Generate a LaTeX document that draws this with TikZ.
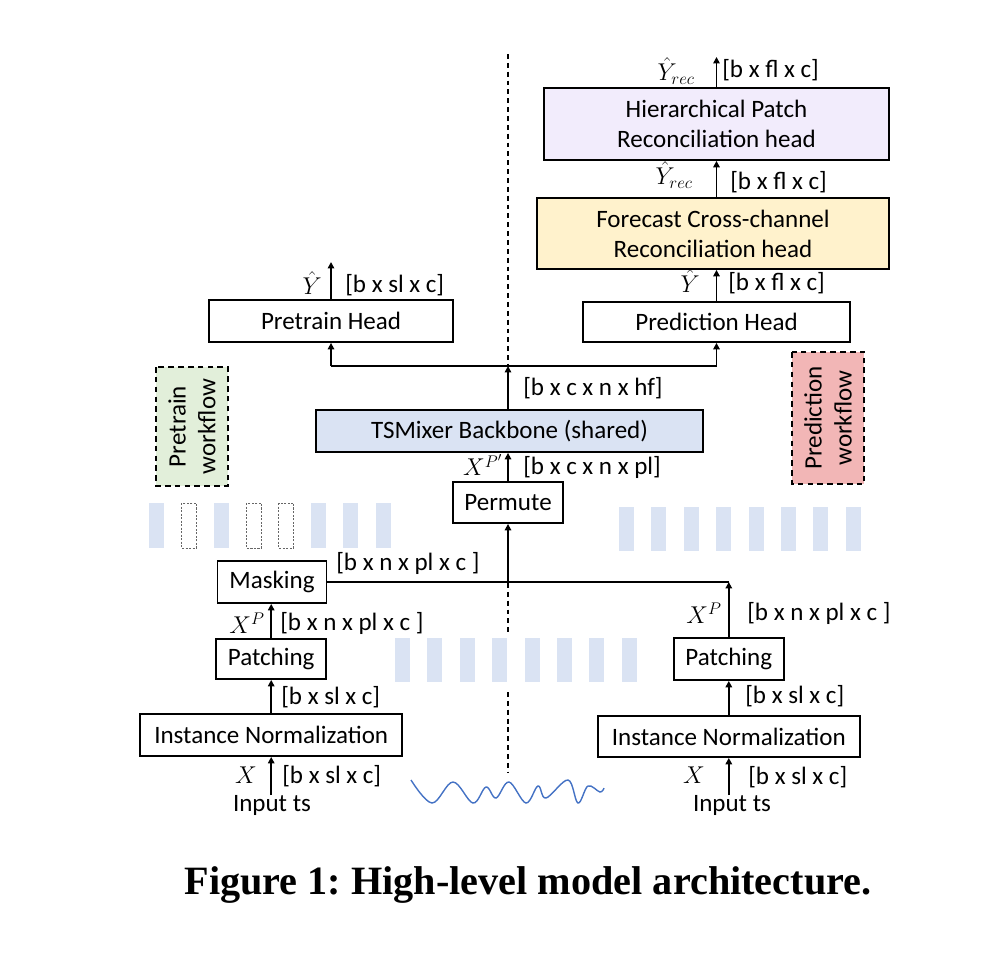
\documentclass[tikz,border=0pt]{standalone}
\usepackage{amsmath}
\usepackage{fontspec}
\setmainfont{Carlito}
\newfontfamily\capfont{Liberation Serif}
\usetikzlibrary{arrows.meta}

\definecolor{lilac}{RGB}{242,236,252}
\definecolor{sand}{RGB}{255,242,204}
\definecolor{steel}{RGB}{218,227,243}
\definecolor{sage}{RGB}{226,239,218}
\definecolor{rose}{RGB}{242,182,182}
\definecolor{wave}{RGB}{68,114,196}

\newcommand{\figfont}{\fontsize{17.8}{21.3}\selectfont}

\tikzset{
  blk/.style={draw, line width=1.3pt, inner sep=0pt, align=center},
  lbl/.style={inner sep=0pt},
  flowbox/.style={draw, line width=1.3pt, dash pattern=on 4pt off 3pt, inner sep=0pt, align=center, rotate=90},
  arr/.style={->, line width=1.2pt},
  link/.style={line width=1pt},
  maskbar/.style={draw=gray!80!black, line width=0.5pt, dash pattern=on 1.5pt off 1pt},
  midline/.style={line width=0.8pt, dash pattern=on 3.5pt off 2.8pt},
}

\begin{document}
\begin{tikzpicture}[font=\figfont, >={Triangle[length=1.6mm,width=1.6mm]}]

\useasboundingbox (0,0) rectangle (24.65,-23.9);

% center line
\draw[midline] (12.7,-1.35) -- (12.7,-9.15);
\draw[midline] (12.7,-14.575) -- (12.7,-15.8);
\draw[midline] (12.7,-17.3) -- (12.7,-19.325);

% patches
\foreach \i in {0,2,5,6,7}
  \fill[steel] ({3.725+0.81*\i},-12.575) rectangle ++(0.375,-1.125);
\foreach \i in {1,3,4}
  \draw[maskbar] ({3.725+0.81*\i},-12.575) rectangle ++(0.375,-1.125);
\foreach \i in {0,...,7}
  \fill[steel] ({9.875+0.81*\i},-15.95) rectangle ++(0.375,-1.1);
\foreach \i in {0,...,7}
  \fill[steel] ({15.475+0.81*\i},-12.675) rectangle ++(0.375,-1.1);

% input series
\draw[wave, line width=1pt] plot[smooth, tension=0.6] coordinates {
  (10.275,-19.5) (10.8,-20.075) (11.325,-19.55) (11.825,-20.075)
  (12.15,-19.675) (12.4,-19.95) (12.725,-19.55) (13.15,-20.075)
  (13.45,-19.65) (13.65,-19.95) (14.2,-19.5) (14.45,-20.075)
  (14.7,-19.65) (15.0,-19.8) (15.1,-19.7)};

% pretrain side
\node[blk, minimum width=6.55cm, minimum height=1.05cm] (normL) at (6.78,-18.375) {Instance Normalization};
\node[blk, minimum width=2.75cm, minimum height=1cm] (patchL) at (6.78,-16.475) {Patching};
\node[blk, minimum width=2.725cm, minimum height=1.05cm] (mask) at (6.8,-14.55) {Masking};
\node[lbl, anchor=north] (inL) at (6.8,-19.875) {Input ts};

\draw[arr] (normL.south |- inL.north) -- (normL.south);
\draw[arr] (normL.north) -- (patchL.south);
\draw[arr] (patchL.north) -- (patchL.north |- mask.south);

\node[lbl, anchor=east] (xL) at (6.425,-19.375) {$X$};
\node[lbl, anchor=west] (dimL1) at (7.05,-19.4) {[b x sl x c]};
\node[lbl, anchor=west] (dimL2) at (7.025,-17.425) {[b x sl x c]};
\node[lbl, anchor=east] (xpL) at (6.625,-15.575) {$X^P$};
\node[lbl, anchor=west] (dimL3) at (7.0,-15.575) {[b x n x pl x c ]};
\node[lbl, anchor=west] (dimL4) at (8.4,-14.075) {[b x n x pl x c ]};

% prediction side
\node[blk, minimum width=6.55cm, minimum height=1.025cm] (normR) at (18.22,-18.4125) {Instance Normalization};
\node[blk, minimum width=2.75cm, minimum height=1.05cm] (patchR) at (18.22,-16.475) {Patching};
\node[lbl, anchor=north] (inR) at (18.3,-19.875) {Input ts};

\draw[arr] (normR.south |- inR.north) -- (normR.south);
\draw[arr] (normR.north) -- (patchR.south);

\node[lbl, anchor=east] (xR) at (17.625,-19.375) {$X$};
\node[lbl, anchor=west] (dimR1) at (18.7,-19.425) {[b x sl x c]};
\node[lbl, anchor=west] (dimR2) at (18.625,-17.4) {[b x sl x c]};
\node[lbl, anchor=east] (xpR) at (18.05,-15.325) {$X^P$};
\node[lbl, anchor=west] (dimR3) at (18.675,-15.325) {[b x n x pl x c ]};

% shared backbone
\node[blk, minimum width=2.75cm, minimum height=1.025cm] (perm) at (12.7,-12.5625) {Permute};
\node[blk, fill=steel, minimum width=9.675cm, minimum height=1.05cm] (bone) at (12.7375,-10.775) {TSMixer Backbone (shared)};

\coordinate (joinR) at (patchR.north |- mask.east);
\draw[link] (mask.east) -- (joinR);
\draw[arr] (patchR.north) -- (joinR);
\draw[arr] (perm.south |- mask.east) -- (perm.south);
\draw[arr] (perm.north) -- (perm.north |- bone.south);

\node[lbl, anchor=east] (xpp) at (12.575,-11.625) {$X^{P'}$};
\node[lbl, anchor=west] (dimB1) at (13.075,-11.675) {[b x c x n x pl]};
\node[lbl, anchor=west] (dimB2) at (13.075,-9.7) {[b x c x n x hf]};

% heads
\node[blk, minimum width=6.1cm, minimum height=1.05cm] (prehead) at (8.275,-8.025) {Pretrain Head};
\node[blk, minimum width=6.675cm, minimum height=1cm] (predhead) at (17.9125,-8.05) {Prediction Head};
\node[blk, fill=sand, minimum width=8.8cm, minimum height=1.775cm] (fcr) at (17.825,-5.8375) {Forecast Cross-channel\\Reconciliation head};
\node[blk, fill=lilac, minimum width=8.625cm, minimum height=1.8cm] (hpr) at (17.9125,-3.1) {Hierarchical Patch\\Reconciliation head};

\coordinate (split) at (12.7,-9.15);
\coordinate (outL) at (8.275,-6.55);
\coordinate (outR) at (17.9125,-1.425);

\draw[arr] (perm.north |- bone.north) -- (split);
\draw[link] (prehead.south |- split) -- (predhead.south |- split);
\draw[arr] (prehead.south |- split) -- (prehead.south);
\draw[arr] (predhead.south |- split) -- (predhead.south);
\draw[arr] (prehead.north) -- (outL);
\draw[arr] (predhead.north) -- (predhead.north |- fcr.south);
\draw[arr] (predhead.north |- fcr.north) -- (predhead.north |- hpr.south);
\draw[arr] (predhead.north |- hpr.north) -- (outR);

\node[lbl, anchor=east] (yL) at (8.05,-7.075) {$\hat{Y}$};
\node[lbl, anchor=west] (dimH1) at (8.625,-7.125) {[b x sl x c]};
\node[lbl, anchor=east] (yR) at (17.5,-7.025) {$\hat{Y}$};
\node[lbl, anchor=west] (dimH2) at (18.2,-7.075) {[b x fl x c]};
\node[lbl, anchor=east] (yrecA) at (17.325,-4.375) {$\hat{Y}_{rec}$};
\node[lbl, anchor=west] (dimH3) at (18.25,-4.55) {[b x fl x c]};
\node[lbl, anchor=east] (yrecB) at (17.375,-1.775) {$\hat{Y}_{rec}$};
\node[lbl, anchor=west] (dimH4) at (18.05,-1.75) {[b x fl x c]};

% workflow tags
\node[flowbox, fill=sage, minimum width=2.975cm, minimum height=1.8cm] (preflow) at (4.8,-10.6625) {Pretrain\\workflow};
\node[flowbox, fill=rose, minimum width=3.3cm, minimum height=1.8cm] (predflow) at (20.7,-10.45) {Prediction\\workflow};

% caption
\node[lbl, font=\capfont\bfseries\frenchspacing\fontsize{28.6}{32}\selectfont] (cap) at (13.2,-22.125) {Figure 1: High-level model architecture.};

\end{tikzpicture}
\end{document}
